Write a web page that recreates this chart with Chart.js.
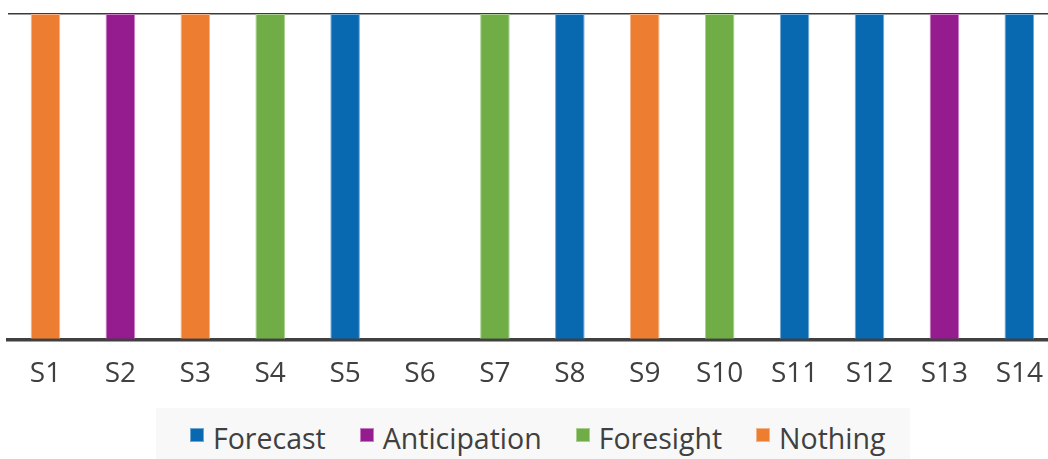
<!DOCTYPE html>
<html>
<head>
<meta charset="utf-8">
<script src="https://cdn.jsdelivr.net/npm/chart.js@4/dist/chart.umd.min.js"></script>
<style>
  html, body { margin: 0; padding: 0; background: #ffffff; }
  #wrap { position: relative; width: 1048px; height: 459px; overflow: hidden; }
  /* the plot runs a little past the right edge of the page */
  #plot { position: absolute; left: 0; top: 0; width: 1061px; height: 408px; }
  #legend {
    position: absolute; left: 156px; top: 408px; width: 754px; height: 51px;
    background: #f8f8f8; box-sizing: border-box; padding-left: 34px;
    font-family: "Open Sans", sans-serif; font-size: 28.5px; color: #404040;
  }
  #legend ul { list-style: none; margin: 0; padding: 0; display: flex; }
  #legend li { display: flex; align-items: flex-start; margin-right: 34px; }
  #legend .sw { width: 12px; height: 12px; margin-top: 20px; margin-right: 9px; border: 1px solid; flex: none; }
  #legend .tx { line-height: 29px; margin-top: 16px; white-space: nowrap; }
</style>
</head>
<body>
<div id="wrap">
  <div id="plot"><canvas id="chart"></canvas></div>
  <div id="legend"></div>
</div>
<script>
// Categories along the x axis
const categories = ['S1', 'S2', 'S3', 'S4', 'S5', 'S6', 'S7', 'S8', 'S9', 'S10', 'S11', 'S12', 'S13', 'S14'];

// Series names
const seriesNames = ['Forecast', 'Anticipation', 'Foresight', 'Nothing'];

// One full-height bar per category, in the series that applies (null = none)
const forecast     = [null, null, null, null, 1, null, null, 1, null, null, 1, 1, null, 1];
const anticipation = [null, 1, null, null, null, null, null, null, null, null, null, null, 1, null];
const foresight    = [null, null, null, 1, null, null, 1, null, null, 1, null, null, null, null];
const nothing      = [1, null, 1, null, null, null, null, null, 1, null, null, null, null, null];

const fills   = ['#0868b0', '#951c8e', '#70ad47', '#ed7d31'];
const borders = ['#6fa6d2', '#c77cc2', '#a9cf90', '#f5b487'];

const seriesValues = [forecast, anticipation, foresight, nothing];

const datasets = seriesNames.map((name, i) => ({
  label: name,
  data: seriesValues[i],
  backgroundColor: fills[i],
  borderColor: borders[i],
  borderWidth: 1,
  barPercentage: 0.395,
  categoryPercentage: 1.0
}));

// Builds the legend as HTML from the chart's own legend items
const htmlLegend = {
  id: 'htmlLegend',
  afterUpdate(chart) {
    const box = document.getElementById('legend');
    box.innerHTML = '';
    const ul = document.createElement('ul');
    chart.options.plugins.legend.labels.generateLabels(chart).forEach(item => {
      const li = document.createElement('li');
      const sw = document.createElement('span');
      sw.className = 'sw';
      sw.style.background = item.fillStyle;
      sw.style.borderColor = item.strokeStyle;
      const tx = document.createElement('span');
      tx.className = 'tx';
      tx.textContent = item.text;
      li.appendChild(sw);
      li.appendChild(tx);
      ul.appendChild(li);
    });
    box.appendChild(ul);
  }
};

new Chart(document.getElementById('chart'), {
  type: 'bar',
  data: { labels: categories, datasets },
  plugins: [htmlLegend],
  options: {
    responsive: true,
    maintainAspectRatio: false,
    animation: false,
    layout: { padding: { left: 8, right: 0, top: 14, bottom: -1 } },
    plugins: {
      legend: { display: false },
      tooltip: { enabled: false }
    },
    scales: {
      x: {
        stacked: true,
        grid: { display: false, drawTicks: false },
        border: { display: true, color: '#404040', width: 3.5 },
        ticks: {
          color: '#404040',
          padding: 18,
          font: { family: 'Open Sans', size: 28 }
        }
      },
      y: {
        stacked: true,
        min: 0,
        max: 1,
        ticks: { display: false, stepSize: 1 },
        grid: { color: '#3a3a3a', lineWidth: 1.5, drawTicks: false },
        border: { display: false }
      }
    }
  }
});
</script>
</body>
</html>
